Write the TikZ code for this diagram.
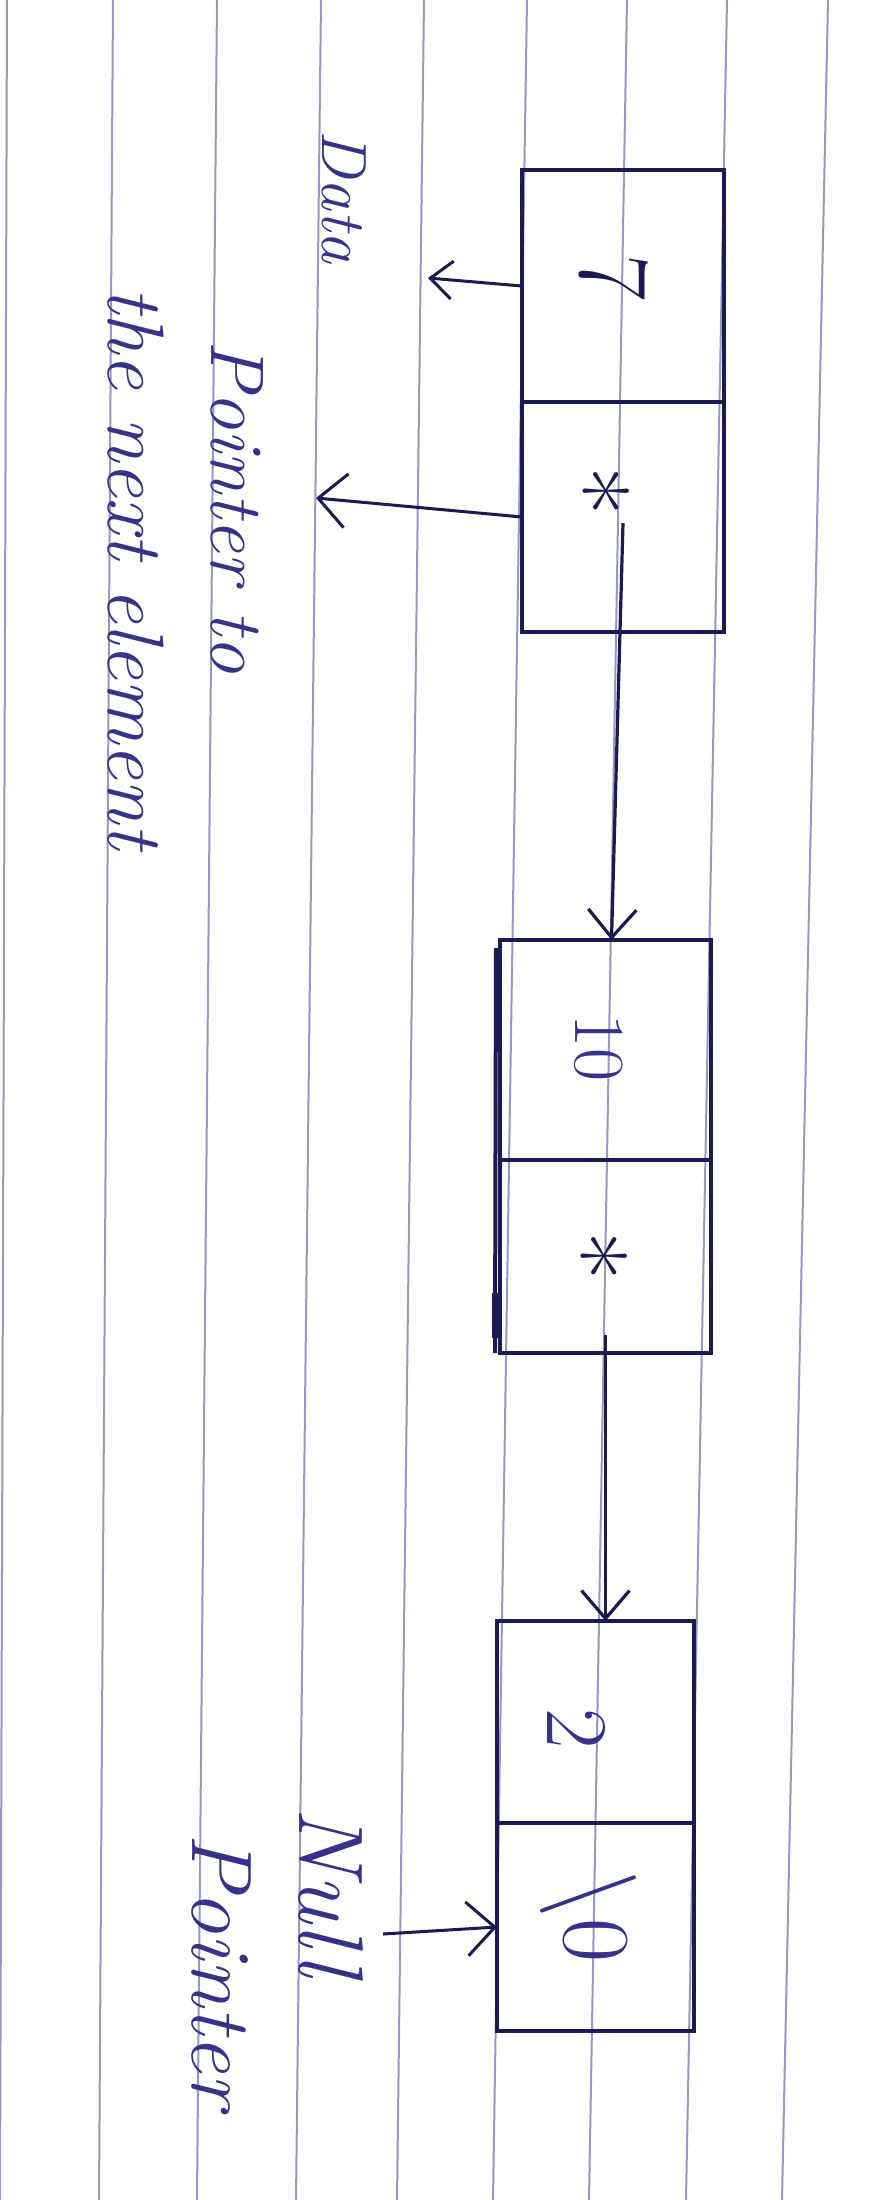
\documentclass[tikz,border=0pt]{standalone}
\usepackage{fontspec}
\usetikzlibrary{arrows.meta, calc}
\definecolor{ink}{HTML}{1C1A52}
\definecolor{pen}{HTML}{36328A}
\definecolor{rule}{HTML}{9896C6}
\tikzset{
  ruled/.style   = {draw=rule, line width=1pt},
  cell/.style    = {draw=ink, line width=2pt, inner sep=0pt, outer sep=0pt},
  hand/.style    = {text=pen, font=\itshape\fontsize{#1}{#1}\selectfont,
                    rotate=-90, anchor=base, inner sep=0pt},
  hand/.default  = 40,
  digit/.style   = {font=\fontsize{#1}{#1}\selectfont, rotate=-90,
                    anchor=base, inner sep=0pt},
  digit/.default = 40,
  link/.style    = {draw=ink, line width=1.6pt,
                    -{Straight Barb[length=14pt, width=24pt]}},
  callout/.style = {draw=ink, line width=1.5pt,
                    -{Straight Barb[length=14pt, width=27pt]}}
}

\begin{document}
\begin{tikzpicture}[x=0.5pt, y=-0.5pt]
\path[use as bounding box, fill=white] (0,0) rectangle (884,2200);
% Ruled paper
\foreach \xt/\xb in {7/0, 113/99, 217/197, 321/296, 424/397,
                     527/493, 627/589, 727/686, 828/782}
  \draw[ruled] (\xt,0) -- (\xb,2200);
% List elements: data cell d, pointer cell p
\foreach \n/\xc/\w/\ya/\yb/\yc in {1/623/202/170/402/632,
                                   2/605.5/211/940/1160/1353,
                                   3/595.5/197/1621/1823/2031} {
  \node[cell, minimum width=\w*0.5pt, minimum height={(\yb-\ya)*0.5pt}]
    (d\n) at (\xc,{(\ya+\yb)/2}) {};
  \node[cell, minimum width=\w*0.5pt, minimum height={(\yc-\yb)*0.5pt}]
    (p\n) at (\xc,{(\yb+\yc)/2}) {};
}
% second stroke on the left of the middle element
\draw[ink, line width=2pt] ($(d2.north west)+(-4,8)$) -- ($(p2.south west)+(-5,0)$);
\draw[ink, line width=3pt] ($(p2.south west)+(-5,-60)$) -- ($(p2.south west)+(-5,-15)$);
% Values
\node[digit=50, text=ink] (v1) at (580,277) {7};
\node[digit=54, text=ink] (s1) at (548,491) {*};
\node[digit=36, text=pen] (v2) at (575,1048) {10};
\node[digit=54, text=ink] (s2) at (546,1256) {*};
\node[digit=44, text=pen] (v3) at (547,1729) {2};
\node[digit=48, text=pen] (s3) at (564,1917) {\textbackslash 0};

% Notes
\node[hand=32] (data) at (322,197) {Data};
\node[hand=38] (ptrnote) at (211,507) {Pointer to};
\node[hand=40] (nextnote) at (108,568) {the next element};
\node[hand=46] (null) at (299,1892) {Null};
\node[hand=43] (nullptr) at (192,1971) {Pointer};

% Links
\draw[link] ($(p1.center)+(0,6)$) -- ($(d2.north)+(6,0)$);
\draw[link] ($(p2.south)+(0,-18)$) -- ($(d3.north)+(10,0)$);

\coordinate (datatip) at (428,278);
\coordinate (ptrtip) at (316,498);
\coordinate (nulltail) at (383,1934);
\draw[callout, -{Straight Barb[length=11pt, width=19pt]}] (d1.west) -- (datatip);
\draw[callout] (p1.west) -- (ptrtip);
\draw[callout] (nulltail) -- (p3.west);
\end{tikzpicture}
\end{document}
